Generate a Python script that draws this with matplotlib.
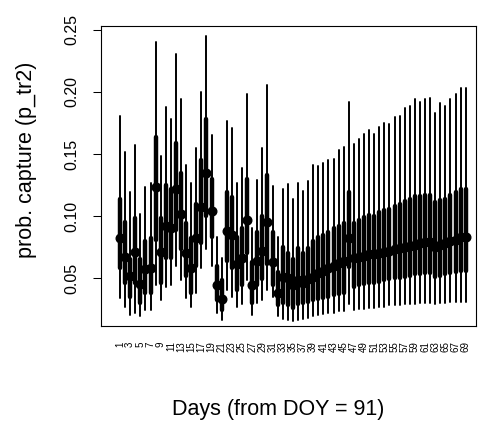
import matplotlib.pyplot as plt
import numpy as np

plt.rcParams['font.family'] = ['Liberation Sans', 'DejaVu Sans']

# posterior summaries per day: median, 50% and 95% intervals
days = np.arange(1, 70)
med = [0.082, 0.067, 0.052, 0.071, 0.045, 0.057, 0.058, 0.123, 0.071, 0.092,
       0.090, 0.122, 0.102, 0.070, 0.058, 0.082, 0.107, 0.135, 0.104, 0.044,
       0.033, 0.088, 0.085, 0.061, 0.066, 0.097, 0.044, 0.064, 0.072, 0.095,
       0.063, 0.038, 0.051, 0.050, 0.044, 0.048, 0.046, 0.049, 0.051, 0.054,
       0.056, 0.058, 0.060, 0.062, 0.064, 0.082, 0.066, 0.067, 0.068, 0.069,
       0.069, 0.070, 0.071, 0.072, 0.073, 0.074, 0.075, 0.076, 0.077, 0.078,
       0.079, 0.079, 0.075, 0.077, 0.078, 0.080, 0.081, 0.083, 0.083]
lo95 = [0.034, 0.027, 0.020, 0.022, 0.019, 0.024, 0.024, 0.044, 0.032, 0.043,
        0.044, 0.060, 0.048, 0.034, 0.027, 0.038, 0.058, 0.073, 0.060, 0.022,
        0.016, 0.040, 0.035, 0.027, 0.029, 0.048, 0.020, 0.030, 0.032, 0.040,
        0.035, 0.019, 0.017, 0.016, 0.015, 0.016, 0.017, 0.018, 0.019, 0.020,
        0.021, 0.022, 0.022, 0.023, 0.023, 0.029, 0.024, 0.025, 0.025, 0.026,
        0.026, 0.027, 0.027, 0.028, 0.028, 0.028, 0.029, 0.029, 0.029, 0.030,
        0.030, 0.030, 0.029, 0.030, 0.030, 0.031, 0.031, 0.031, 0.031]
lo50 = [0.058, 0.046, 0.035, 0.046, 0.030, 0.038, 0.038, 0.081, 0.046, 0.066,
        0.066, 0.089, 0.073, 0.052, 0.038, 0.060, 0.078, 0.100, 0.083, 0.032,
        0.024, 0.064, 0.058, 0.040, 0.044, 0.070, 0.030, 0.044, 0.049, 0.061,
        0.044, 0.028, 0.030, 0.028, 0.026, 0.029, 0.030, 0.031, 0.032, 0.033,
        0.034, 0.035, 0.036, 0.037, 0.038, 0.059, 0.043, 0.044, 0.045, 0.046,
        0.046, 0.047, 0.048, 0.049, 0.050, 0.050, 0.051, 0.052, 0.053, 0.053,
        0.054, 0.054, 0.051, 0.052, 0.053, 0.054, 0.055, 0.056, 0.056]
hi50 = [0.114, 0.095, 0.065, 0.098, 0.065, 0.080, 0.082, 0.164, 0.098, 0.125,
        0.122, 0.159, 0.135, 0.094, 0.082, 0.110, 0.145, 0.178, 0.130, 0.060,
        0.048, 0.119, 0.115, 0.083, 0.090, 0.130, 0.063, 0.087, 0.100, 0.133,
        0.087, 0.055, 0.075, 0.070, 0.065, 0.074, 0.070, 0.074, 0.080, 0.083,
        0.085, 0.087, 0.090, 0.092, 0.094, 0.119, 0.094, 0.097, 0.099, 0.101,
        0.100, 0.103, 0.105, 0.106, 0.108, 0.110, 0.112, 0.114, 0.116, 0.116,
        0.117, 0.117, 0.111, 0.113, 0.114, 0.117, 0.119, 0.122, 0.122]
hi95 = [0.181, 0.152, 0.119, 0.157, 0.102, 0.123, 0.127, 0.240, 0.148, 0.188,
        0.178, 0.231, 0.194, 0.141, 0.127, 0.155, 0.200, 0.245, 0.165, 0.083,
        0.066, 0.177, 0.171, 0.127, 0.139, 0.198, 0.090, 0.129, 0.155, 0.206,
        0.124, 0.083, 0.122, 0.126, 0.114, 0.127, 0.120, 0.128, 0.141, 0.140,
        0.143, 0.145, 0.146, 0.153, 0.156, 0.192, 0.158, 0.162, 0.166, 0.169,
        0.166, 0.172, 0.175, 0.174, 0.180, 0.181, 0.187, 0.189, 0.194, 0.192,
        0.194, 0.195, 0.183, 0.191, 0.189, 0.194, 0.198, 0.203, 0.203]
yticks = [0.05, 0.10, 0.15, 0.20, 0.25]

W, H = 478, 428
fig = plt.figure(figsize=(W / 100, H / 100), dpi=100)
ax = fig.add_axes([101 / W, 1 - 326 / H, 375 / W, 300 / H])

ax.vlines(days, lo95, hi95, color='black', lw=1.4, capstyle='round')
ax.vlines(days, lo50, hi50, color='black', lw=3.2, capstyle='round')
ax.plot(days, med, 'o', color='black', ms=6.2)

ax.set_xlim(-2.74, 71.03)
ax.set_ylim(0.0113, 0.2532)

ax.set_yticks(yticks)
ax.set_yticklabels(['%.2f' % v for v in yticks], rotation=90, va='center',
                   fontsize=11.5)
ax.tick_params(axis='y', length=5.5, width=0.75, pad=10)

ax.set_xticks(days[::2])
ax.set_xticklabels([str(d) for d in days[::2]], rotation=90, fontsize=7)
ax.tick_params(axis='x', length=0, pad=11)

for s in ax.spines.values():
    s.set_linewidth(0.8)

fig.text(278 / W, 1 - 409 / H, 'Days (from DOY = 91)', ha='center',
         va='center', fontsize=15.5)
fig.text(27 / W, 1 - 160 / H, 'prob. capture (p_tr2)', ha='center',
         va='center', rotation=90, fontsize=15.5)

fig.savefig('out.png')
